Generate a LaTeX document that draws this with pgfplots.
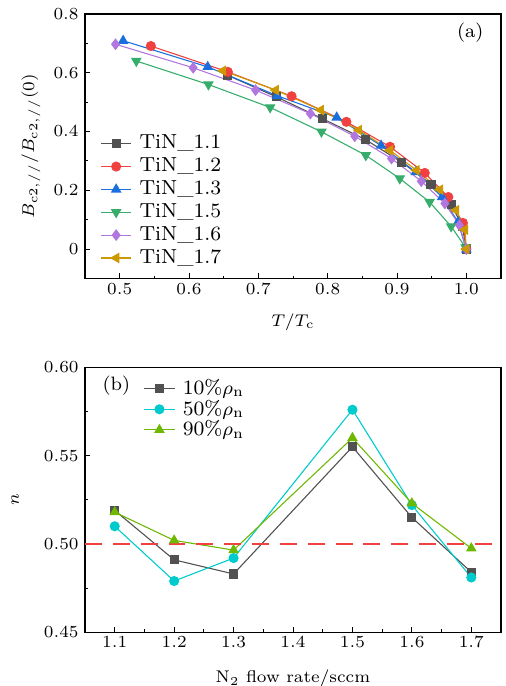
\documentclass[border=0pt]{standalone}
\usepackage{pgfplots}
\pgfplotsset{compat=1.18}
\definecolor{cgrey}{HTML}{515151}
\definecolor{cred}{HTML}{F14040}
\definecolor{cblue}{HTML}{1A6FDF}
\definecolor{cgreen}{HTML}{37AD6B}
\definecolor{cpurple}{HTML}{B177DE}
\definecolor{cgold}{HTML}{CC9900}
\definecolor{ccyan}{HTML}{00CBCC}
\definecolor{clime}{HTML}{6FB802}
\begin{document}
\begin{tikzpicture}
\pgfplotsset{
  panel/.style={
    scale only axis, width=171.8pt, height=109.2pt,
    axis line style={line width=0.5pt},
    tick align=inside, tick pos=left,
    major tick length=2.1pt, minor tick length=1.2pt,
    every tick/.style={black, line width=0.4pt},
    minor x tick num=1, minor y tick num=1,
    tick label style={font=\fontsize{7}{8.5}\selectfont},
    xticklabel style={yshift=1.6pt},
    yticklabel style={xshift=0.9pt},
    label style={font=\fontsize{7}{8.5}\selectfont},
    xlabel style={at={(axis description cs:0.5,0)}, anchor=center, yshift=-17.9pt},
    legend style={draw=none, fill=none, inner sep=0pt,
      font=\fontsize{8.4}{10}\selectfont,
      /tikz/every odd column/.append style={column sep=1.2pt}},
    legend cell align=left,
    legend image code/.code={\draw[mark repeat=2,mark phase=2]
      plot coordinates {(0cm,0cm) (0.22cm,0cm) (0.44cm,0cm)};},
  },
  ser/.style={color=#1, line width=0.45pt, mark options={solid, fill=#1, draw=#1}},
}
\begin{axis}[panel, at={(0,0)}, anchor=north west,
  xmin=0.45, xmax=1.05, ymin=-0.1, ymax=0.8,
  xtick={0.5,0.6,0.7,0.8,0.9,1.0}, ytick={0,0.2,0.4,0.6,0.8},
  xticklabel style={/pgf/number format/.cd, fixed, fixed zerofill, precision=1},
  xlabel={$T/T_{\mathrm{c}}$},
  ylabel={$B_{\mathrm{c}2,//}/B_{\mathrm{c}2,//}(0)$},
  ylabel style={at={(axis description cs:-0.13,0.5)}, anchor=center},
  legend style={at={(rel axis cs:0.036,0.024)}, anchor=south west, row sep=-1.8pt},
]
\addplot[ser=cgrey, mark=square*, mark size=1.65pt] coordinates {
  (0.655,0.592) (0.726,0.518) (0.793,0.443) (0.855,0.372) (0.907,0.295)
  (0.949,0.221) (0.978,0.152) (0.994,0.078) (1.0,0.0)};
\addlegendentry{TiN\_1.1}
\addplot[ser=cred, mark=*, mark size=1.85pt] coordinates {
  (0.545,0.691) (0.656,0.603) (0.748,0.520) (0.827,0.433) (0.890,0.348)
  (0.940,0.259) (0.974,0.177) (0.995,0.089) (1.0,0.0)};
\addlegendentry{TiN\_1.2}
\addplot[ser=cblue, mark=triangle*, mark size=2.1pt] coordinates {
  (0.505,0.709) (0.627,0.620) (0.727,0.522) (0.813,0.448) (0.877,0.352)
  (0.927,0.262) (0.965,0.177) (0.988,0.092) (1.0,-0.002)};
\addlegendentry{TiN\_1.3}
\addplot[ser=cgreen, mark=triangle*, mark size=2.1pt, mark options={rotate=180}] coordinates {
  (0.524,0.640) (0.628,0.560) (0.717,0.482) (0.791,0.399) (0.855,0.319)
  (0.904,0.240) (0.947,0.160) (0.978,0.077) (0.999,0.005)};
\addlegendentry{TiN\_1.5}
\addplot[ser=cpurple, mark=diamond*, mark size=2.1pt] coordinates {
  (0.494,0.697) (0.606,0.617) (0.696,0.541) (0.775,0.461) (0.839,0.384)
  (0.892,0.308) (0.935,0.231) (0.969,0.155) (0.990,0.081) (1.0,0.0)};
\addlegendentry{TiN\_1.6}
\addplot[ser=cgold, mark=triangle*, mark size=2.1pt, mark options={rotate=90}] coordinates {
  (0.649,0.607) (0.725,0.541) (0.790,0.473) (0.845,0.405) (0.890,0.336)
  (0.928,0.268) (0.962,0.202) (0.985,0.132) (0.998,0.066) (1.0,0.0)};
\addlegendentry{TiN\_1.7}
\node[anchor=east, font=\fontsize{8}{9.5}\selectfont] at (rel axis cs:0.978,0.93) {(a)};
\end{axis}

\begin{axis}[panel, at={(0,-145.9pt)}, anchor=north west,
  height=109.4pt,
  xmin=1.05, xmax=1.75, ymin=0.45, ymax=0.60,
  xtick={1.1,1.2,1.3,1.4,1.5,1.6,1.7}, ytick={0.45,0.50,0.55,0.60},
  xticklabel style={/pgf/number format/.cd, fixed, fixed zerofill, precision=1},
  yticklabel style={/pgf/number format/.cd, fixed, fixed zerofill, precision=2},
  xlabel={N$_2$ flow rate/sccm},
  xlabel style={yshift=-1.2pt},
  ylabel={$n$},
  ylabel style={at={(axis description cs:-0.168,0.5)}, anchor=center},
  legend style={at={(rel axis cs:0.14,0.975)}, anchor=north west, row sep=-3.3pt},
]
\addplot[ser=cgrey, mark=square*, mark size=1.65pt] coordinates {
  (1.1,0.519) (1.2,0.491) (1.3,0.483) (1.5,0.555) (1.6,0.515) (1.7,0.484)};
\addlegendentry{10\%$\rho_{\mathrm{n}}$}
\addplot[ser=ccyan, mark=*, mark size=1.85pt] coordinates {
  (1.1,0.510) (1.2,0.479) (1.3,0.492) (1.5,0.576) (1.6,0.522) (1.7,0.481)};
\addlegendentry{50\%$\rho_{\mathrm{n}}$}
\addplot[ser=clime, mark=triangle*, mark size=2.1pt] coordinates {
  (1.1,0.518) (1.2,0.502) (1.3,0.4965) (1.5,0.560) (1.6,0.523) (1.7,0.4975)};
\addlegendentry{90\%$\rho_{\mathrm{n}}$}
\addplot[cred, line width=0.75pt, dash pattern=on 7pt off 4.5pt, forget plot] coordinates {
  (1.05,0.5) (1.75,0.5)};
\node[anchor=west, font=\fontsize{8}{9.5}\selectfont] at (rel axis cs:0.022,0.93) {(b)};
\end{axis}
\pgfresetboundingbox
\path[use as bounding box] (-35.1pt,5.78pt) rectangle (173.45pt,-277.5pt);
\end{tikzpicture}
\end{document}
